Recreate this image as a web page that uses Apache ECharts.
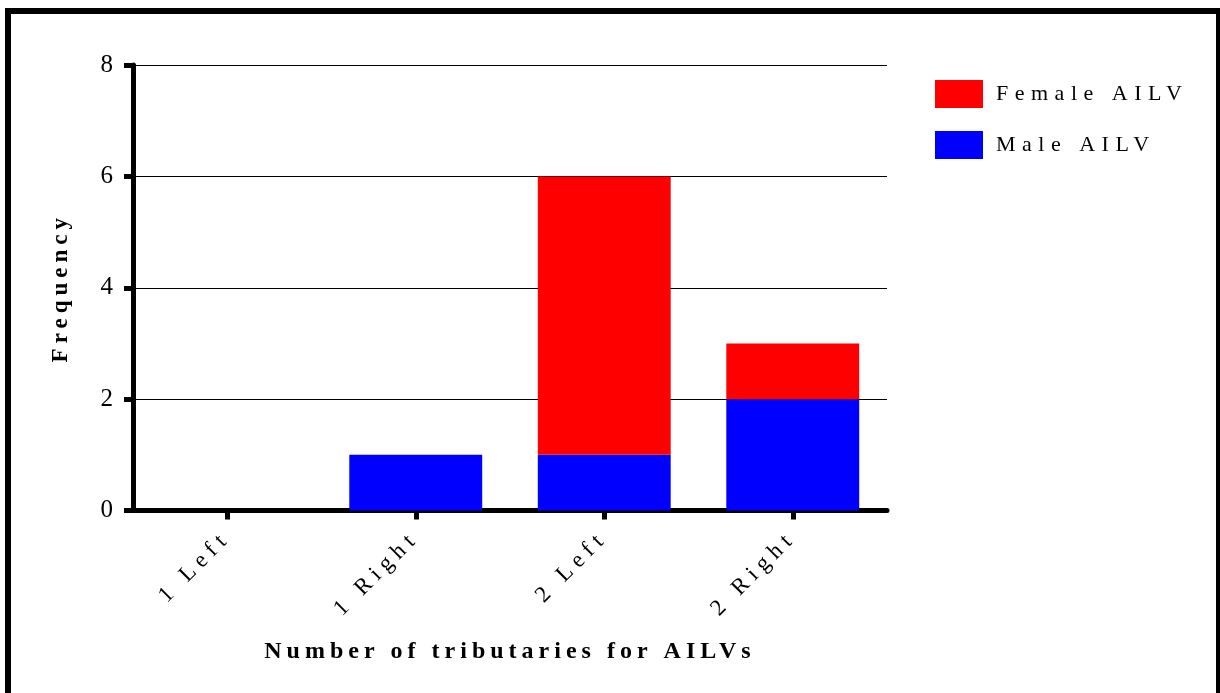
<!DOCTYPE html>
<html>
<head>
<meta charset="utf-8">
<script src="https://cdn.jsdelivr.net/npm/echarts@6/dist/echarts.min.js"></script>
<style>
html,body{margin:0;padding:0;background:#fff;}
#frame{position:absolute;left:5px;top:8px;width:1215px;height:700px;border-left:6px solid #000;border-top:6px solid #000;border-right:4px solid #000;box-sizing:border-box;}
#chart{position:absolute;left:0;top:0;width:1220px;height:693px;}
</style>
</head>
<body>
<div id="frame"></div>
<div id="chart"></div>
<script>
const categories = ['1 Left', '1 Right', '2 Left', '2 Right'];
const maleValues = [0, 1, 1, 2];
const femaleValues = [0, 0, 5, 1];
const yTicks = [0, 2, 4, 6, 8];
const xTitle = 'Number of tributaries for AILVs';
const yTitle = 'Frequency';
const legendNames = ['Female AILV', 'Male AILV'];

// letter spacing for the widely tracked texts of the original figure
const spacing = {};
spacing[xTitle] = '5px';
spacing[yTitle] = '5px';
legendNames.forEach(n => spacing[n] = '6.5px');
categories.forEach(c => spacing[c] = '6px');
const origFill = CanvasRenderingContext2D.prototype.fillText;
CanvasRenderingContext2D.prototype.fillText = function (text, x, y, maxW) {
  const sp = spacing[text];
  if (sp && 'letterSpacing' in this) {
    const old = this.letterSpacing;
    this.letterSpacing = sp;
    if (maxW === undefined) origFill.call(this, text, x, y); else origFill.call(this, text, x, y, maxW);
    this.letterSpacing = old;
  } else {
    origFill.apply(this, arguments);
  }
};

const serif = '"Liberation Serif", "Times New Roman", serif';
const chart = echarts.init(document.getElementById('chart'), null, {renderer: 'canvas'});
chart.setOption({
  backgroundColor: 'transparent',
  animation: false,
  grid: {left: 133, right: 333, top: 65, bottom: 182.5, containLabel: false},
  legend: {
    orient: 'vertical',
    left: 930, top: 75,
    itemWidth: 48, itemHeight: 28, itemGap: 23,
    icon: 'rect',
    data: legendNames,
    textStyle: {fontFamily: serif, fontSize: 22, color: '#000', padding: [0, 0, 0, 8]}
  },
  xAxis: {
    type: 'category',
    data: categories,
    name: xTitle,
    nameLocation: 'middle',
    nameGap: 129,
    nameTextStyle: {fontFamily: serif, fontSize: 24, fontWeight: 'bold', color: '#000'},
    axisLine: {lineStyle: {color: '#000', width: 5}},
    axisTick: {show: true, alignWithLabel: true, length: 9, lineStyle: {color: '#000', width: 5}},
    axisLabel: {rotate: 45, fontFamily: serif, fontSize: 23, color: '#000', margin: 24, interval: 0},
    splitLine: {show: false}
  },
  yAxis: {
    type: 'value',
    min: yTicks[0], max: yTicks[yTicks.length - 1], interval: 2,
    name: yTitle,
    nameLocation: 'middle',
    nameGap: 60,
    nameTextStyle: {fontFamily: serif, fontSize: 23, fontWeight: 'bold', color: '#000'},
    axisLine: {show: true, lineStyle: {color: '#000', width: 5}},
    axisTick: {show: true, length: 9, lineStyle: {color: '#000', width: 5}},
    axisLabel: {fontFamily: serif, fontSize: 25, color: '#000', margin: 15},
    splitLine: {show: true, lineStyle: {color: '#000', width: 1}}
  },
  series: [
    {
      name: 'Male AILV', type: 'bar', stack: 'total',
      data: maleValues, barCategoryGap: '29.5%',
      itemStyle: {color: '#0000ff'}
    },
    {
      name: 'Female AILV', type: 'bar', stack: 'total',
      data: femaleValues, barCategoryGap: '29.5%',
      itemStyle: {color: '#ff0000'}
    }
  ]
});
</script>
</body>
</html>
